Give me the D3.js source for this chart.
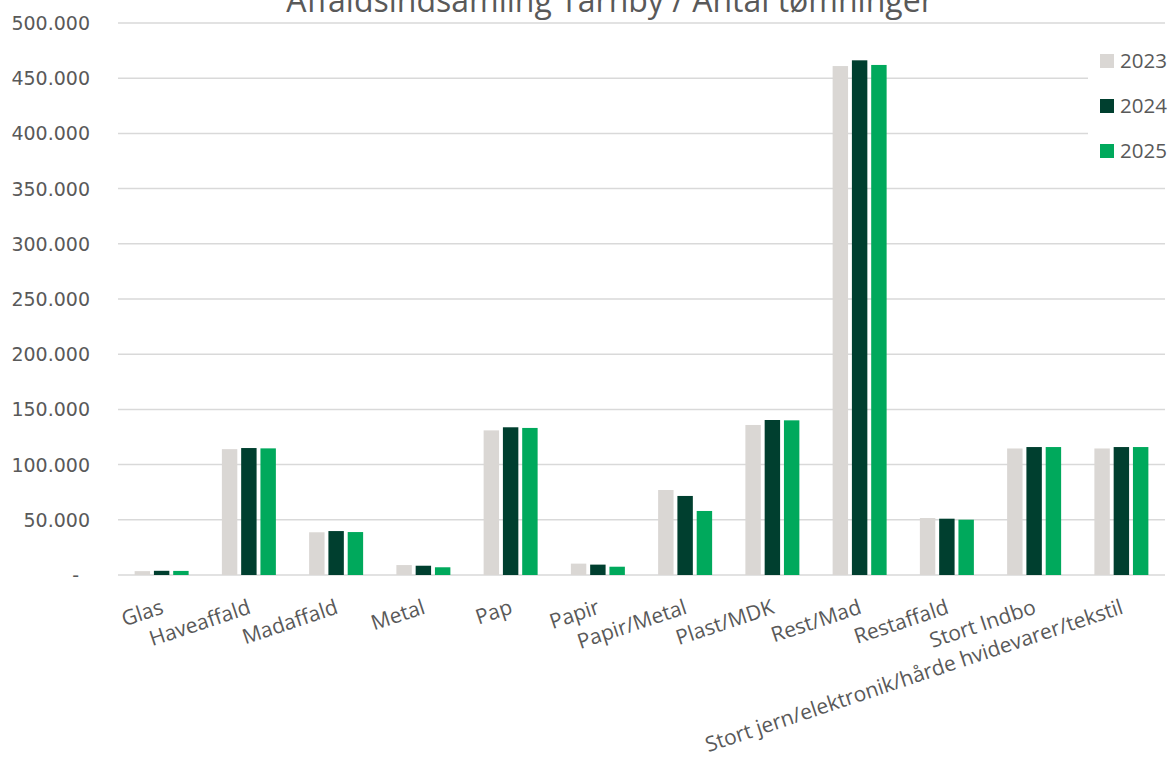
<!DOCTYPE html>
<html>
<head>
<meta charset="utf-8">
<script src="https://cdn.jsdelivr.net/npm/d3@7"></script>
<style>
  body { margin: 0; background: #fff; }
  svg { display: block; }
</style>
</head>
<body>
<svg width="1171" height="768"></svg>
<script>
var categories = ['Glas', 'Haveaffald', 'Madaffald', 'Metal', 'Pap', 'Papir', 'Papir/Metal',
  'Plast/MDK', 'Rest/Mad', 'Restaffald', 'Stort Indbo', 'Stort jern/elektronik/hårde hvidevarer/tekstil']

var years = ['2023', '2024', '2025']

var values2023 = [3500, 114000, 38700, 9000, 131000, 10300, 77000, 135900, 461000, 51600, 114600, 114600]
var values2024 = [3800, 115000, 39800, 8400, 133800, 9400, 71600, 140400, 466200, 51000, 115900, 115900]
var values2025 = [3700, 114700, 38900, 7000, 133200, 7500, 58000, 140100, 462000, 50100, 115900, 115900]

var yTicks = [0, 50000, 100000, 150000, 200000, 250000, 300000, 350000, 400000, 450000, 500000]

var colors = {'2023': '#DAD7D4', '2024': '#003F2F', '2025': '#00A95C'}

var series = {'2023': values2023, '2024': values2024, '2025': values2025}

var svg = d3.select('svg')

var plotLeft = 118, plotRight = 1165, plotTop = 23, plotBottom = 575

var x0 = d3.scaleBand()
  .domain(categories)
  .range([plotLeft, plotRight])
  .padding(0)

var x1 = d3.scaleBand()
  .domain(years)
  .range([0, 54])
  .paddingInner(0.2)

var y = d3.scaleLinear()
  .domain([0, 500000])
  .range([plotBottom, plotTop])

var locale = d3.formatLocale({decimal: ',', thousands: '.', grouping: [3], currency: ['', '']})
var fmt = locale.format(',')

// gridlines
svg.append('g')
  .selectAll('line')
  .data(yTicks)
  .enter()
  .append('line')
  .attr('x1', plotLeft)
  .attr('x2', plotRight)
  .attr('y1', function(d) { return y(d) })
  .attr('y2', function(d) { return y(d) })
  .attr('stroke', '#D9D9D9')
  .attr('stroke-width', 1.5)

// y labels
svg.append('g')
  .selectAll('text')
  .data(yTicks)
  .enter()
  .append('text')
  .attr('x', function(d) { return d == 0 ? 79 : 90 })
  .attr('y', function(d) { return y(d) + 7 })
  .attr('text-anchor', 'end')
  .style('font-family', 'DejaVu Sans')
  .style('font-size', '19px')
  .style('fill', '#595959')
  .text(function(d) { return d == 0 ? '-' : fmt(d) })

// bars
var groups = svg.append('g')
  .selectAll('g')
  .data(categories)
  .enter()
  .append('g')
  .attr('transform', function(d) { return 'translate(' + (x0(d) + (x0.bandwidth() - 54) / 2) + ',0)' })

groups.selectAll('rect')
  .data(function(d, i) { return years.map(function(yr) { return {year: yr, value: series[yr][i]} }) })
  .enter()
  .append('rect')
  .attr('x', function(d) { return x1(d.year) })
  .attr('y', function(d) { return y(d.value) })
  .attr('width', x1.bandwidth())
  .attr('height', function(d) { return plotBottom - y(d.value) })
  .attr('fill', function(d) { return colors[d.year] })

// x labels
svg.append('g')
  .selectAll('text')
  .data(categories)
  .enter()
  .append('text')
  .attr('text-anchor', 'end')
  .attr('transform', function(d) {
    var cx = x0(d) + x0.bandwidth() / 2 + 3
    return 'translate(' + cx + ',613) rotate(-18.5)'
  })
  .style('font-family', 'Open Sans')
  .style('font-size', '21px')
  .style('fill', '#595959')
  .text(function(d) { return d })

// legend
var legend = svg.append('g')

legend.append('rect')
  .attr('x', 1088)
  .attr('y', 40)
  .attr('width', 83)
  .attr('height', 132)
  .attr('fill', '#fff')

var items = legend.selectAll('g')
  .data(years)
  .enter()
  .append('g')
  .attr('transform', function(d, i) { return 'translate(1100,' + (61 + i * 45) + ')' })

items.append('rect')
  .attr('x', 0)
  .attr('y', -7)
  .attr('width', 14)
  .attr('height', 14)
  .attr('fill', function(d) { return colors[d] })

items.append('text')
  .attr('x', 20)
  .attr('y', 7)
  .style('font-family', 'Open Sans')
  .style('font-size', '20.5px')
  .style('fill', '#595959')
  .text(function(d) { return d })

// title
svg.append('text')
  .attr('x', 610)
  .attr('y', 12)
  .attr('text-anchor', 'middle')
  .style('font-family', 'Open Sans')
  .style('font-size', '32px')
  .style('fill', '#595959')
  .text('Affaldsindsamling Tårnby / Antal tømninger')
</script>
</body>
</html>
